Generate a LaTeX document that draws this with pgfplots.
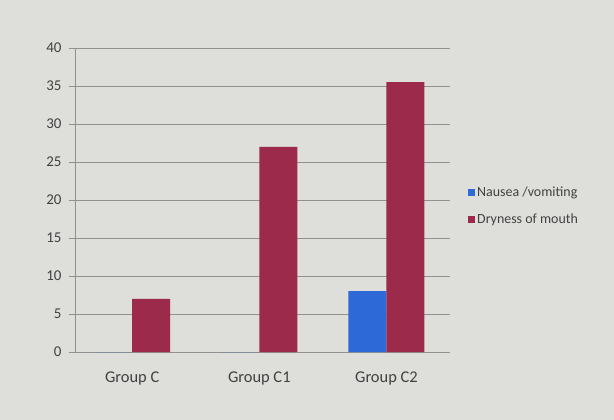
\documentclass[border=0pt]{standalone}
\usepackage{pgfplots}
\pgfplotsset{compat=1.18}
\usepackage{fontspec}
\setmainfont{Carlito}
\definecolor{paper}{RGB}{222,222,219}
\definecolor{nausea}{RGB}{45,105,215}
\definecolor{dryness}{RGB}{155,42,75}
\definecolor{txt}{RGB}{65,65,65}
\definecolor{gridc}{RGB}{145,145,145}

\begin{document}
\begin{tikzpicture}
\fill[paper] (0bp,0bp) rectangle (614bp,420bp);
\begin{axis}[
  at={(75bp,68bp)}, anchor=south west,
  scale only axis, width=375bp, height=304bp,
  ybar=0pt, bar width=38bp,
  ymin=0, ymax=40, ytick={0,5,...,40},
  xmin=-0.45, xmax=2.5,
  xtick=data, xticklabels={Group C, Group C1, Group C2},
  x tick style={draw=none},
  y tick style={gridc},
  tick align=outside, major tick length=6bp,
  axis y line*=left, axis x line*=bottom,
  axis line style={gridc},
  ymajorgrids, grid style={gridc, line width=0.8pt},
  /pgf/number format/assume math mode=true,
  tick label style={font=\fontsize{15}{17}\selectfont, text=txt},
  yticklabel style={xshift=-4bp},
  xticklabel style={yshift=-10bp, font=\fontsize{16.5}{19}\selectfont},
  legend style={draw=none, fill=none, at={(1.04,0.48)}, anchor=west,
    font=\fontsize{14}{16}\selectfont, text=txt, row sep=12bp},
  legend cell align=left,
  legend image code/.code={\fill[#1] (0bp,-3.5bp) rectangle (7bp,3.5bp);},
]
\addplot[fill=nausea, draw=none] coordinates {(0,0) (1,0) (2,8)};
\addplot[fill=dryness, draw=none] coordinates {(0,7) (1,27) (2,35.5)};
\legend{Nausea /vomiting, Dryness of mouth}
\end{axis}
\end{tikzpicture}
\end{document}
